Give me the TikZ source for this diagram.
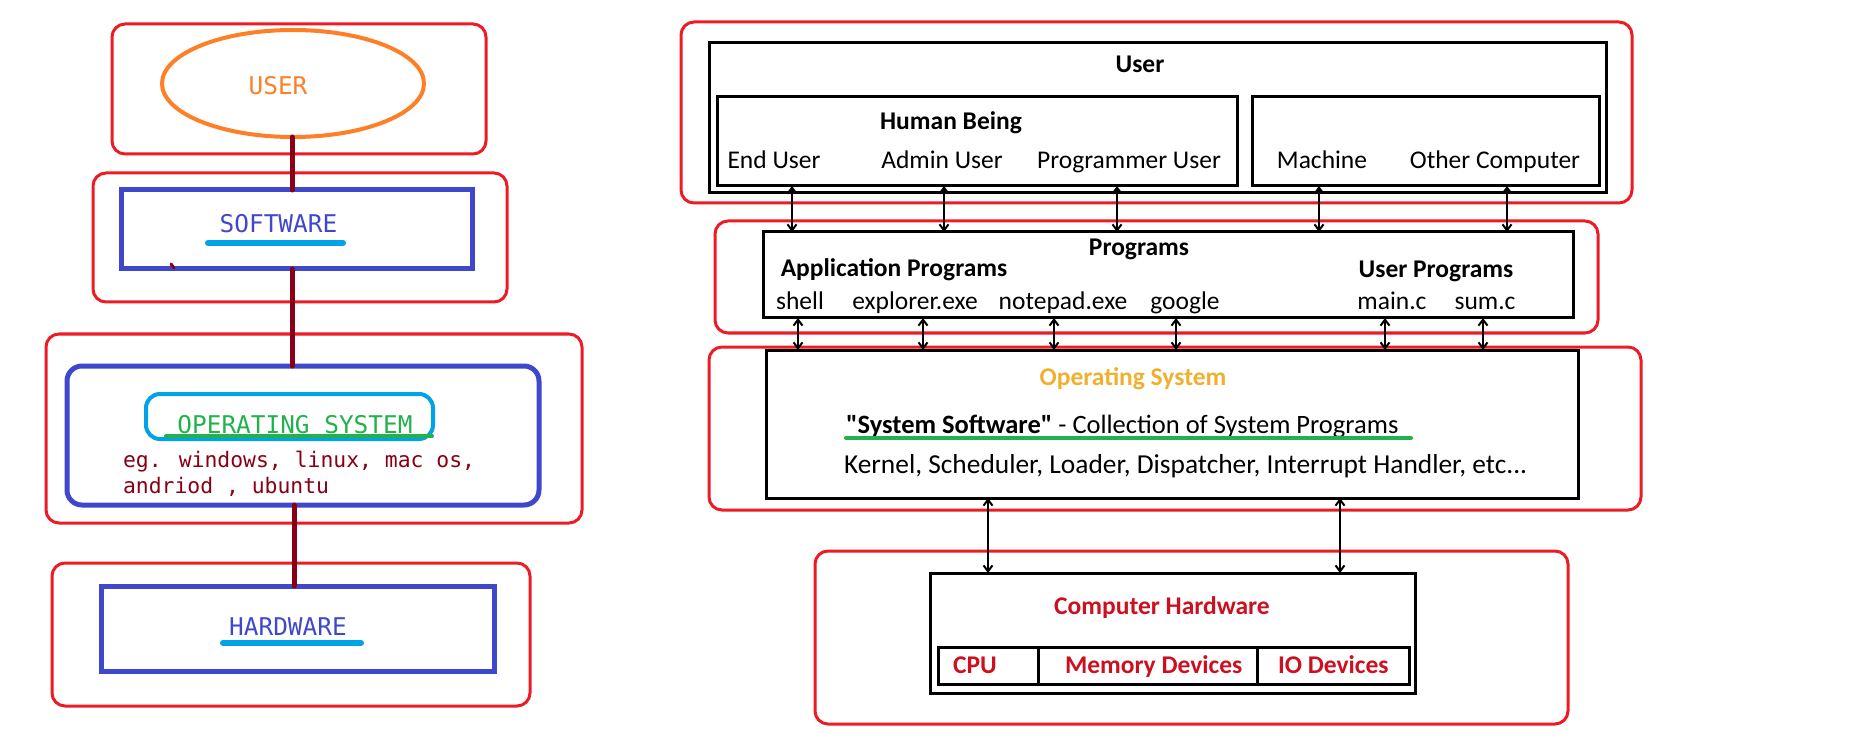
\documentclass[tikz,border=0pt]{standalone}
\usepackage{fontspec}
\setmainfont{Carlito}
\newfontfamily\nqfont{Carlito}[Ligatures=TeXOff]
\newfontfamily\monof{DejaVu Sans Mono}
\usetikzlibrary{shapes.geometric,arrows.meta}
\definecolor{pRed}{HTML}{ED1C24}
\definecolor{pOrange}{HTML}{FF7F27}
\definecolor{pBlue}{HTML}{3F48CC}
\definecolor{pCyan}{HTML}{00A2E8}
\definecolor{pDark}{HTML}{880015}
\definecolor{pGreen}{HTML}{22B14C}
\definecolor{osYellow}{HTML}{EFB030}
\definecolor{hwRed}{HTML}{CC1020}
\newcommand{\bx}[6]{\node[#2, minimum width={(#5)-(#3)}, minimum height={(#6)-(#4)}] (#1) at ({((#3)+(#5))/2},{((#4)+(#6))/2}) {};}
\begin{document}
\begin{tikzpicture}[x=1pt,y=-1pt,
  box/.style={rectangle, inner sep=0pt, outer sep=0pt},
  redbox/.style={box, draw=pRed, line width=3pt, rounded corners=13pt},
  bluebox/.style={box, draw=pBlue, line width=5pt},
  blackbox/.style={box, draw=black, line width=3pt},
  conn/.style={draw=pDark, line width=5pt, line cap=round},
  uline/.style={line width=6pt, line cap=round},
  arr/.style={draw=black, line width=2pt, {Straight Barb[length=6pt,width=9pt]}-{Straight Barb[length=6pt,width=9pt]}},
  lbl/.style={inner sep=0pt, outer sep=0pt},
  mono/.style={lbl, font=\monof\fontsize{24.4}{28}\selectfont},
  monos/.style={lbl, font=\monof\fontsize{21.4}{26}\selectfont, text=pDark},
  rtxt/.style={lbl, font=\fontsize{25.5}{30}\selectfont},
  btxt/.style={lbl, font=\bfseries\fontsize{25.5}{30}\selectfont},
]
\useasboundingbox (0,0) rectangle (1850,743);

% ---------------- left side ----------------
\bx{userR}{redbox}{112}{24}{486}{154}
\node[ellipse, draw=pOrange, line width=4pt, inner sep=0pt, outer sep=0pt,
      minimum width=262pt, minimum height=107pt] (userEl) at (293,83.5) {};
\node[mono, text=pOrange, anchor=base] (userT) at (278,95) {USER};

\bx{swR}{redbox}{93}{173}{507}{302}
\bx{sw}{bluebox}{121}{190}{472}{269}
\node[mono, text=pBlue, anchor=base] (swT) at (278.5,233) {SOFTWARE};
\draw[uline, pCyan] (208,243) -- (343,243);
\draw[pDark, line width=3pt, line cap=round] (171,264) -- (174,268);

\bx{osR}{redbox}{46}{334}{582}{523}
\bx{os}{bluebox, rounded corners=15pt}{67}{366}{539}{505}
\bx{osC}{box, draw=pCyan, line width=4pt, rounded corners=14pt}{146}{394}{433}{439}
\node[mono, text=pGreen, anchor=base] (osT) at (295,433) {OPERATING SYSTEM};
\draw[pGreen, line width=4pt, line cap=round] (166,436) -- (432,436);
\node[monos, anchor=base west] (eg1) at (123,467) {eg. windows, linux, mac os,};
\node[monos, anchor=base west] (eg2) at (123,493) {andriod , ubuntu};

\bx{hwR}{redbox}{52}{563}{530}{706}
\bx{hw}{bluebox}{101}{586}{494}{671}
\node[mono, text=pBlue, anchor=base] (hwT) at (288,635) {HARDWARE};
\draw[uline, pCyan] (223,643) -- (361,643);

\coordinate (cA) at (292,0);
\coordinate (cB) at (294,0);
\draw[conn] (userEl.south -| cA) -- (sw.north -| cA);
\draw[conn] (sw.south -| cA) -- (os.north -| cA);
\draw[conn] (os.south -| cB) -- (hw.north -| cB);

% ---------------- right side ----------------
\bx{ugR}{redbox}{681}{22}{1632}{203}
\bx{ubox}{blackbox}{709}{43}{1606}{193}
\node[btxt, anchor=base] (uT) at (1140,73) {User};
\bx{human}{blackbox}{717}{97}{1237}{186}
\node[btxt, anchor=base] (humT) at (951,130) {Human Being};
\node[rtxt, anchor=base] (endU) at (774,169) {End User};
\node[rtxt, anchor=base] (admU) at (942,169) {Admin User};
\node[rtxt, anchor=base] (proU) at (1129,169) {Programmer User};
\bx{mach}{blackbox}{1252}{97}{1599}{186}
\node[rtxt, anchor=base] (machT) at (1322,169) {Machine};
\node[rtxt, anchor=base] (othT) at (1495,169) {Other Computer};

\bx{pgR}{redbox}{715}{221}{1598}{333}
\bx{prog}{blackbox}{763}{232}{1573}{318}
\node[btxt, anchor=base] (pgT) at (1139,256) {Programs};
\node[btxt, anchor=base] (apT) at (894,277) {Application Programs};
\node[btxt, anchor=base] (upT) at (1436,278) {User Programs};
\node[rtxt, anchor=base] (shT) at (800,309) {shell};
\node[rtxt, anchor=base] (exT) at (915,309) {explorer.exe};
\node[rtxt, anchor=base] (npT) at (1063,309) {notepad.exe};
\node[rtxt, anchor=base] (goT) at (1185,309) {google};
\node[rtxt, anchor=base] (mcT) at (1392,310) {main.c};
\node[rtxt, anchor=base] (scT) at (1485,310) {sum.c};

\bx{rosR}{redbox}{709}{347}{1641}{510}
\bx{ros}{blackbox}{766}{350}{1578}{498}
\node[btxt, text=osYellow, anchor=base] (rosT) at (1133,385) {Operating System};
\node[lbl, font=\nqfont\fontsize{26.5}{30}\selectfont, anchor=base west] (ssT) at (846,433) {\textbf{"System Software"} - Collection of System Programs};
\draw[pGreen, line width=4pt, line cap=round] (846,438) -- (1411,438);
\node[lbl, font=\fontsize{27.4}{30}\selectfont, anchor=base west] (knT) at (844,473) {Kernel, Scheduler, Loader, Dispatcher, Interrupt Handler, etc...};

\bx{rhwR}{redbox}{815}{551}{1568}{724}
\bx{rhw}{blackbox}{930}{573}{1415}{693}
\node[btxt, text=hwRed, anchor=base] (rhwT) at (1162,614) {Computer Hardware};
\bx{cpu}{blackbox}{938}{647}{1038}{684}
\bx{mem}{blackbox}{1038}{647}{1257}{684}
\bx{io}{blackbox}{1257}{647}{1409}{684}
\node[btxt, text=hwRed, anchor=base west] (cpuT) at (953,673) {CPU};
\node[btxt, text=hwRed, anchor=base west] (memT) at (1065,673) {Memory Devices};
\node[btxt, text=hwRed, anchor=base west] (ioT) at (1278,673) {IO Devices};

% arrows
\foreach \i/\xx in {1/792,2/944,3/1117} {
  \coordinate (a\i) at (\xx,0);
  \draw[arr] (human.south -| a\i) -- (prog.north -| a\i);
}
\foreach \i/\xx in {4/1319,5/1507} {
  \coordinate (a\i) at (\xx,0);
  \draw[arr] (mach.south -| a\i) -- (prog.north -| a\i);
}
\foreach \i/\xx in {1/798,2/923,3/1054,4/1176,5/1385,6/1483} {
  \coordinate (b\i) at (\xx,0);
  \draw[arr] (prog.south -| b\i) -- (ros.north -| b\i);
}
\foreach \i/\xx in {1/988,2/1340} {
  \coordinate (h\i) at (\xx,0);
  \draw[arr] (ros.south -| h\i) -- (rhw.north -| h\i);
}
\end{tikzpicture}
\end{document}
